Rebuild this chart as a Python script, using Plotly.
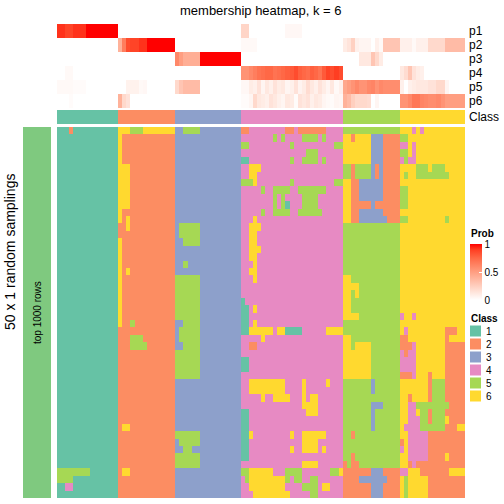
import plotly.graph_objects as go

# ---------------- data ----------------
CLASS_LABELS = ["1", "2", "3", "4", "5", "6"]
CLASS_COLORS = ["#66C2A5", "#FC8D62", "#8DA0CB", "#E78AC3", "#A6D854", "#FFD92F"]
PROB_ROWS = ["p1", "p2", "p3", "p4", "p5", "p6"]

# class of each of the 100 samples (columns), in display order
COLUMN_CLASS = ("111111111111111 22222222222222 3333333333333333 "
                "4444444444444444444444444 55555555555555 6666666666666666")

# membership probabilities per sample
P1 = [.92, .92, .88, .88, .92, .92, .92, 1, 1, 1, 1, 1, 1, 1, 1,
      0, 0, 0, 0, 0, 0, 0, 0, 0, 0, 0, 0, 0, 0,
      0, 0, 0, 0, 0, 0, 0, 0, 0, 0, 0, 0, 0, 0, 0, 0,
      .22, .22, 0, 0, 0, 0, 0, 0, 0, 0, 0, .04, .04, .04, .04, 0, 0, 0, 0, 0, 0, 0, 0, 0, 0,
      0, 0, 0, 0, 0, 0, 0, 0, 0, 0, 0, 0, 0, 0,
      0, 0, 0, 0, 0, 0, 0, 0, 0, 0, 0, 0, 0, 0, 0, 0]
P2 = [0, 0, 0, 0, 0, 0, 0, 0, 0, 0, 0, 0, 0, 0, 0,
      .4, .65, .85, .88, .88, .92, .92, 1, 1, 1, 1, 1, 1, 1,
      0, 0, 0, 0, 0, 0, 0, 0, 0, 0, 0, 0, 0, 0, 0, 0,
      .03, .03, .03, .03, 0, 0, 0, 0, 0, 0, 0, 0, 0, 0, 0, 0, 0, 0, 0, 0, 0, 0, 0, 0, 0,
      .1, .14, .24, .08, .05, .05, .05, 0, .08, .03, .3, .3, .3, .3,
      .08, .08, .08, .03, .08, .08, .08, .2, .2, .2, .2, .35, .35, .35, .35, .35]
P3 = [0, 0, 0, 0, 0, 0, 0, 0, 0, 0, 0, 0, 0, 0, 0,
      0, 0, 0, 0, 0, 0, 0, 0, 0, 0, 0, 0, 0, 0,
      .6, .5, .42, .42, .42, .42, 1, 1, 1, 1, 1, 1, 1, 1, 1, 1,
      0, 0, 0, 0, 0, 0, 0, 0, 0, 0, 0, 0, 0, 0, 0, 0, 0, 0, 0, 0, 0, 0, 0, 0, 0,
      0, 0, 0, 0, .12, .12, .12, .3, .2, .1, 0, 0, 0, 0,
      0, 0, 0, 0, 0, 0, 0, 0, 0, 0, 0, 0, 0, 0, 0, 0]
P4 = [0, 0, .03, .03, 0, 0, 0, 0, 0, 0, 0, 0, 0, 0, 0,
      0, 0, 0, 0, 0, 0, 0, 0, 0, 0, 0, 0, 0, 0,
      0, 0, 0, 0, 0, 0, 0, 0, 0, 0, 0, 0, 0, 0, 0, 0,
      .55, .55, .6, .65, .7, .72, .75, .75, .7, .72, .75, .78, .8, .85, .78, .75, .72, .78, .75, .7,
      .8, .88, .85, .9, .85,
      0, 0, 0, 0, 0, 0, 0, 0, 0, 0, 0, 0, 0, 0,
      .12, .18, .3, .15, .1, .08, 0, 0, 0, 0, 0, 0, 0, 0, 0, 0]
P5 = [.03, .03, .03, .03, .02, .02, .02, 0, 0, 0, 0, 0, 0, 0, 0,
      0, 0, .07, .07, .07, .03, .04, 0, 0, 0, 0, 0, 0, 0,
      .2, .3, .35, .35, .35, .35, 0, 0, 0, 0, 0, 0, 0, 0, 0, 0,
      .04, .04, .1, .08, .15, .05, .12, .08, .15, .1, .12, .05, .08, .15, .06, .1, .18, .12, .08, .15,
      .1, .05, .12, .03, .08,
      .45, .5, .55, .6, .55, .55, .6, .62, .55, .6, .58, .58, .58, .58,
      .08, 0, .08, .1, .12, .12, .12, .15, .15, .2, .2, .05, 0, 0, 0, 0]
P6 = [0, 0, 0, .02, 0, 0, 0, 0, 0, 0, 0, 0, 0, 0, 0,
      .4, .2, .15, 0, 0, 0, 0, 0, 0, 0, 0, 0, 0, 0,
      0, 0, 0, 0, 0, 0, 0, 0, 0, 0, 0, 0, 0, 0, 0, 0,
      .02, .02, .05, .2, .12, .1, .08, .15, .12, .08, .05, .12, .1, .02, .15, .12, .15, .08, .12, .1,
      .05, .03, .02, .05, .04,
      .4, .35, .25, .2, .2, .2, .18, 0, .05, 0, 0, 0, 0, 0,
      .55, .55, .6, .68, .68, .62, .6, .58, .58, .6, .55, .5, .5, .5, .5, .5]

# predicted class of every sample (columns) in each of the 50 random samplings (rows)
SAMPLING_CLASSES = [
    "111211111111111 66655566666666 3355553333333333 2244444444422422222224444 55555555555555 6664646666666666",
    "111111111111111 62222222222222 3333333333333333 4444444454544445555454444 66266663332222 5566666666666666",
    "111111111111111 62222222222222 3333333333333333 5544444444445444444444455 66666663332222 4464666666666666",
    "111111111111111 62222222222222 3333333333333333 4444444444444444555444444 66666663332222 5564666666666666",
    "111111111111111 62222222222222 3333333333333333 1144444444445445555454444 66666663332222 4544666666666666",
    "111111111111111 66622222222222 3333333333333333 4466644444444444444444444 55255553232222 6666555655566666",
    "111111111111111 66622222222222 3333333333333333 4466444444444444444444444 55255553232222 6566555555556666",
    "111111111111111 66622222222222 3333333333333333 5556444444445444444444455 66223333332222 6666666666666666",
    "111111111111111 66622222222222 3333333333333333 4444454455554455555554444 66223333332222 5566666666666666",
    "111111111111111 66622222222222 3333333333333333 4444444454544445555444444 66223333332222 5566666666666666",
    "111111111111111 66622222222222 3333333333333333 4444444454514445555444444 66222223222222 5566666666666666",
    "111111111111111 62222222222222 3333333333333333 4444454455554455555544444 66223333332222 6666666666666666",
    "111111111111111 62622222222222 3333333333333333 4446444444444444444444444 66223333333222 5566666666656666",
    "111111111111111 22622222222222 3555553333333333 4466644444444444444444444 55555555555555 6666666666666666",
    "111111111111111 22222222222222 3555553333333333 4466444444444444444444444 55555555555555 6666666666666666",
    "111111111111111 62222222222222 3355553333333333 4466444444444444444444444 55555555555555 6666666666666666",
    "111111111111111 62222222222222 3333333333333333 4466644444444444444444444 55555555555555 6666666666666666",
    "111111111111111 62222222222222 3333333333333333 4466444444444444444444444 55555555555555 6666666666666666",
    "111111111111111 62222222222222 3353333333333333 4446444444444444444444444 55555555555555 6666666666666666",
    "111111111111111 62622222222222 3333333333333333 4466444444444444444444444 55555555555555 6666666666666666",
    "111111111111111 62222222222222 5555553333333333 4446444444444444444444444 66555555555555 6666666666666666",
    "111111111111111 62222222222222 5555553333333333 4444444444444444444444444 66665555555555 6666666666666666",
    "111111111111111 62222222222222 5555553333333333 4444444444444444444444444 66565555555555 6666666666666666",
    "111111111111111 62222222222222 5555553333333333 1444444444444444444444444 66555555555555 6666666666666666",
    "111111111111111 62222222222222 5555553333333333 1146444444444444444444444 66555555555555 6666666666666666",
    "111111111111111 62222222222222 5555553333333333 1144444444444444444444444 66665555555555 4664666666666666",
    "111111111111111 62252222222222 3355553333333333 1146444444444444444444444 55555555555555 6666666666666666",
    "111111111111111 22222222222222 3555553333333333 1166666646611114444446666 55555555555555 6466666666622266",
    "111111111111111 22255522222222 3555553333333333 4444464444444444444444444 66555555555555 2266666666626666",
    "111111111111111 22255552222222 3355553333333333 4422444444444444444444444 66566665555555 2224666666622222",
    "111111111111111 22222222222222 5555553333333333 4444444444444444444444444 66666665555555 4244666666622222",
    "111111111111111 22222222222222 5555553333333333 1144444444444444444444444 66666665555555 4444666666622222",
    "111111111111111 22222222222222 5555553333333333 1144444444444444444444444 66666665555555 4444666666622222",
    "111111111111111 22222222222222 5555553333333333 4444444444444444444444444 66666665555555 2224666266622222",
    "111111111111111 22222222222222 3333333333333333 4466666666644446444446444 55555553555555 6666666255522222",
    "111111111111111 22222222222222 3333333333333333 4466666666644446444444444 55555553555555 6666666255522222",
    "111111111111111 22222222222222 3333333333333333 4444464466664446466444444 55555555555555 6626666255522222",
    "111111111111111 22222222222222 3333333333333333 4444444444444446666444444 55555553335555 6644555555552222",
    "111111111111111 22222222222222 3333333333333333 1144444444444444666444444 55555553555555 6644655255522222",
    "111111111111111 22222222222222 3333333333333333 1144444444444444444444444 55555553555555 6644455255562222",
    "111111111111111 26622222222222 3333333333333333 1144444444444444444444444 55555553555555 6444455555522266",
    "111111111111111 22222222222222 5555553333333333 1164444444446446666664444 55255555555555 6644444222222222",
    "111111111111111 22222222222222 3555553333333333 1144444444444446666444444 55555555555555 2644444222222222",
    "111111111111111 22222222222222 3355333333333333 1144444444446446666464444 55555555555555 4644444222222222",
    "111111111111111 22222222222222 5555553333333333 1144444444444444444444444 55255555555555 6644444222262222",
    "111111111111111 22222222222222 5555553333333333 4444444444444446666444444 25225555555555 6624222222222222",
    "555555551111111 26622222222222 3333333333333333 5566666644455554444444556 22222223332222 4466622222226666",
    "555511111111111 22222222222222 3333333333333333 4566666666654554455444444 22223333333222 6566666222222222",
    "114411111111111 22222222222222 3333333333333333 4466666666644445555466444 22222223332222 6566666222222222",
    "111111111111111 22222222222222 3333333333333333 4446666666664444455444444 22222223332222 6566666222222222",
]

ROW_GROUP = "top 1000 rows"
ROW_TITLE = "50 x 1 random samplings"
TITLE = "membership heatmap, k = 6"

# ---------------- build ----------------
def parse(s):
    return [int(ch) for ch in s.replace(" ", "")]

col_class = parse(COLUMN_CLASS)
main_z = [parse(r) for r in SAMPLING_CLASSES]
n_cols = len(col_class)
for r in main_z:
    assert len(r) == n_cols, len(r)
for p in (P1, P2, P3, P4, P5, P6):
    assert len(p) == n_cols, len(p)

samples = [f"s{i + 1}" for i in range(n_cols)]
sampling_ids = [f"r{i + 1}" for i in range(len(main_z))]

W = H = 504
FONT = "Liberation Sans, Arial, Helvetica, sans-serif"


def fx(x):
    return x / W


def fy(y):
    return 1 - y / H


# discrete colorscale for classes 1..6
n = len(CLASS_COLORS)
class_scale = []
for i, c in enumerate(CLASS_COLORS):
    class_scale.append([i / n, c])
    class_scale.append([(i + 1) / n, c])

prob_scale = [[0, "#FFFFFF"], [0.25, "rgb(255,207,191)"], [0.5, "rgb(255,158,129)"],
              [0.75, "rgb(255,104,70)"], [0.9, "rgb(255,62,34)"], [1, "#FF0000"]]

fig = go.Figure()

fig.add_trace(go.Heatmap(
    z=[P1, P2, P3, P4, P5, P6], x=samples, y=PROB_ROWS,
    colorscale=prob_scale, zmin=0, zmax=1, xaxis="x", yaxis="y",
    colorbar=dict(x=fx(470), xanchor="left", xpad=0, y=fy(244), yanchor="top", ypad=0,
                  len=56, lenmode="pixels", thickness=12, thicknessmode="pixels",
                  outlinewidth=0, tickvals=[0, 0.5, 1], ticktext=["0", "0.5", "1"],
                  ticks="inside", ticklen=3, tickcolor="white",
                  tickfont=dict(family=FONT, size=10, color="black")),
    hoverinfo="skip"))

fig.add_trace(go.Heatmap(
    z=[col_class], x=samples, y=["Class"], colorscale=class_scale, zmin=0.5, zmax=n + 0.5,
    showscale=False, xaxis="x", yaxis="y2", hoverinfo="skip"))

fig.add_trace(go.Heatmap(
    z=main_z, x=samples, y=sampling_ids, colorscale=class_scale, zmin=0.5, zmax=n + 0.5,
    showscale=False, xaxis="x", yaxis="y3", hoverinfo="skip"))

fig.add_trace(go.Heatmap(
    z=[[1] for _ in main_z], x=[ROW_GROUP], y=sampling_ids,
    colorscale=[[0, "#7FC97F"], [1, "#7FC97F"]], showscale=False,
    xaxis="x2", yaxis="y3", hoverinfo="skip"))

hidden = dict(visible=False, showgrid=False, zeroline=False)
fig.update_layout(
    width=W, height=H, margin=dict(l=0, r=0, t=0, b=0),
    paper_bgcolor="white", plot_bgcolor="white", showlegend=False,
    font=dict(family=FONT, color="black"),
    xaxis=dict(domain=[fx(57), fx(465)], anchor="y3", **hidden),
    xaxis2=dict(domain=[fx(23), fx(51)], anchor="y3", **hidden),
    yaxis=dict(domain=[fy(108), fy(24)], anchor="x", autorange="reversed", **hidden),
    yaxis2=dict(domain=[fy(124), fy(110)], anchor="x", **hidden),
    yaxis3=dict(domain=[fy(498), fy(127)], anchor="x", autorange="reversed", **hidden),
)

ann = []
ann.append(dict(text=TITLE, x=fx(261), y=fy(10), xref="paper", yref="paper",
                showarrow=False, font=dict(size=13), xanchor="center", yanchor="middle"))
row_centers = [31, 45, 59, 73, 87, 101]
for lab, yc in zip(PROB_ROWS, row_centers):
    ann.append(dict(text=lab, x=fx(467), y=fy(yc), xref="paper", yref="paper",
                    showarrow=False, font=dict(size=12), xanchor="left", yanchor="middle"))
ann.append(dict(text="Class", x=fx(467), y=fy(117), xref="paper", yref="paper",
                showarrow=False, font=dict(size=12), xanchor="left", yanchor="middle"))
ann.append(dict(text=ROW_GROUP, x=fx(37), y=fy(313), xref="paper", yref="paper", textangle=-90,
                showarrow=False, font=dict(size=10), xanchor="center", yanchor="middle"))
ann.append(dict(text=ROW_TITLE, x=fx(10), y=fy(252), xref="paper", yref="paper", textangle=-90,
                showarrow=False, font=dict(size=14), xanchor="center", yanchor="middle"))
# legends
ann.append(dict(text="<b>Prob</b>", x=fx(469), y=fy(233), xref="paper", yref="paper",
                showarrow=False, font=dict(size=10), xanchor="left", yanchor="middle"))
ann.append(dict(text="<b>Class</b>", x=fx(469), y=fy(318), xref="paper", yref="paper",
                showarrow=False, font=dict(size=10), xanchor="left", yanchor="middle"))
shapes = []
for i, (lab, col) in enumerate(zip(CLASS_LABELS, CLASS_COLORS)):
    yc = 331 + 13 * i
    shapes.append(dict(type="rect", xref="paper", yref="paper", x0=fx(470), x1=fx(481),
                       y0=fy(yc - 5.5), y1=fy(yc + 5.5), fillcolor=col, line=dict(width=0)))
    ann.append(dict(text=lab, x=fx(484), y=fy(yc), xref="paper", yref="paper",
                    showarrow=False, font=dict(size=10), xanchor="left", yanchor="middle"))
fig.update_layout(annotations=ann, shapes=shapes)

fig.write_html("out.html", config={"displayModeBar": False, "staticPlot": True},
               post_script="document.body.style.margin='0';document.body.style.overflow='hidden';")
